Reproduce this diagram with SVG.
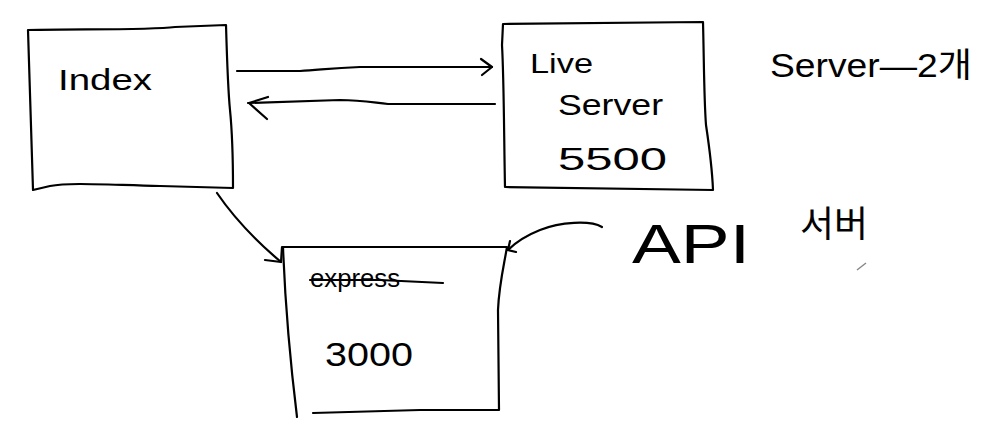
<svg xmlns="http://www.w3.org/2000/svg" width="988" height="434" viewBox="0 0 988 434">
<style>
.ln{fill:none;stroke:#000;stroke-width:2.2;stroke-linecap:round;stroke-linejoin:round}
.t{font-family:"Liberation Sans","Noto Sans CJK KR",sans-serif;fill:#000}
</style>
<rect width="988" height="434" fill="#fff"/>
<g id="index">
<path class="ln" d="M28,30 C90,29 150,30 175,27 L226,25 C227,60 228,90 230,110 C232,130 233,160 233,188 L160,186 C110,185 70,182 50,186 L33,190 C32,150 30,90 28,30 Z"/>
<text class="t" x="58" y="90" font-size="30" textLength="94" lengthAdjust="spacingAndGlyphs">Index</text>
</g>
<g id="liveserver">
<path class="ln" d="M503,24 L703,22 C704,60 704,100 706,125 C709,145 712,165 713,190 L505,187 C504,140 504,80 502,45 Z"/>
<text class="t" x="530" y="73" font-size="27" textLength="63" lengthAdjust="spacingAndGlyphs">Live</text>
<text class="t" x="558" y="115" font-size="30" textLength="105" lengthAdjust="spacingAndGlyphs">Server</text>
<text class="t" x="558" y="170" font-size="32" textLength="109" lengthAdjust="spacingAndGlyphs">5500</text>
</g>
<g id="express">
<path class="ln" d="M283,247 L507,247 C504,265 499,285 498,310 L499,410 L420,410 L313,413"/>
<path class="ln" d="M283,247 C285,300 290,360 297,417"/>
<text class="t" x="310" y="287" font-size="26" textLength="90" lengthAdjust="spacingAndGlyphs">express</text>
<path class="ln" d="M310,280 L380,280 L443,283"/>
<text class="t" x="325" y="366" font-size="34" textLength="88" lengthAdjust="spacingAndGlyphs">3000</text>
</g>
<g id="labels">
<text class="t" x="770" y="77" font-size="34" textLength="202" lengthAdjust="spacingAndGlyphs">Server—2개</text>
<text class="t" x="632" y="263" font-size="56" textLength="118" lengthAdjust="spacingAndGlyphs">API</text>
<text class="t" x="800" y="237" font-size="36" textLength="68" lengthAdjust="spacingAndGlyphs">서버</text>
<path d="M857,270 L866,263" stroke="#888" stroke-width="1.5" fill="none"/>
</g>
<g id="connectors">
<path class="ln" d="M237,71 L300,71 C320,70 330,68 360,67 L492,67"/>
<path class="ln" d="M481,59 L492,67 L482,75"/>
<path class="ln" d="M495,104 L388,104 C370,102 360,100 340,100 L248,103"/>
<path class="ln" d="M268,97 L249,103 L267,119"/>
<path class="ln" d="M217,193 C232,215 255,240 281,262"/>
<path class="ln" d="M265,260 L281,262 L282,247"/>
<path class="ln" d="M602,227 C590,220 560,222 540,230 C525,236 515,243 508,250"/>
<path class="ln" d="M510,241 L508,250 L516,252"/>
</g>
</svg>
